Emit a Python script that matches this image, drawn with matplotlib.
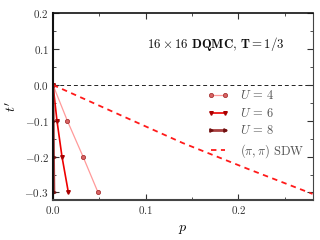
import matplotlib
matplotlib.use("Agg")
import matplotlib.pyplot as plt
from matplotlib.ticker import MultipleLocator, FixedLocator, FixedFormatter

plt.rcParams['mathtext.fontset'] = 'cm'
plt.rcParams['font.family'] = 'serif'
plt.rcParams['font.serif'] = ['DejaVu Serif']

# data
tp = [0.0, -0.1, -0.2, -0.3]
p_U4 = [0.0, 0.0155, 0.0324, 0.0486]
p_U6 = [0.0, 0.0043, 0.0097, 0.0166]
p_U8 = [0.0, 0.0003, 0.0006, 0.0010]
p_sdw = [0.0, 0.07, 0.14, 0.21, 0.28]
t_sdw = [0.0, -0.081, -0.162, -0.234, -0.304]

xticks = [0.0, 0.1, 0.2]
xticklabels = [r'$0.0$', r'$0.1$', r'$0.2$']
yticks = [-0.3, -0.2, -0.1, 0.0, 0.1, 0.2]
yticklabels = [r'$-0.3$', r'$-0.2$', r'$-0.1$', r'$0.0$', r'$0.1$', r'$0.2$']

fig = plt.figure(figsize=(3.2, 2.4), dpi=100)
ax = fig.add_axes([0.1656, 0.1667, 0.811, 0.778])

ax.axhline(0.0, color='#222222', ls=(0, (4, 3)), lw=0.7, zorder=1)

ax.plot(p_U4, tp, color='#ff9a9a', lw=0.9, marker='o', ms=3.0,
        mfc='#d86464', mec='#a83434', mew=0.6, label=r'$U\,=\,4$')
ax.plot(p_U6, tp, color='#ee0000', lw=1.2, marker='v', ms=2.6,
        mfc='#aa0000', mec='#aa0000', label=r'$U\,=\,6$')
ax.plot(p_U8, tp, color='#a84040', lw=2.0, marker='>', ms=2.4,
        mfc='#701010', mec='#701010', label=r'$U\,=\,8$')
ax.plot(p_sdw, t_sdw, color='#ff1a1a', lw=1.3, ls=(0, (3, 2.5)),
        label=r'$(\pi,\pi)\ \mathrm{SDW}$')

ax.set_xlim(0, 0.28)
ax.set_ylim(-0.321, 0.2)

ax.xaxis.set_major_locator(FixedLocator(xticks))
ax.xaxis.set_major_formatter(FixedFormatter(xticklabels))
ax.yaxis.set_major_locator(FixedLocator(yticks))
ax.yaxis.set_major_formatter(FixedFormatter(yticklabels))
ax.xaxis.set_minor_locator(MultipleLocator(0.05))
ax.yaxis.set_minor_locator(MultipleLocator(0.05))
ax.tick_params(which='both', direction='in', top=True, right=True,
               labelsize=8, colors='#333333', pad=3)
ax.tick_params(which='major', length=4, width=0.8)
ax.tick_params(which='minor', length=2, width=0.6)

for side, lw, c in [('left', 1.5, '#111111'), ('bottom', 1.5, '#444444'),
                    ('top', 1.2, '#111111'), ('right', 0.8, '#444444')]:
    ax.spines[side].set_linewidth(lw)
    ax.spines[side].set_color(c)

ax.set_xlabel(r'$p$', fontsize=10, labelpad=4)
ax.set_ylabel(r"$t'$", fontsize=10, labelpad=4)

ax.text(0.101, 0.113, r'$16\times16\ \mathbf{DQMC,\,T{=}1/3}$',
        fontsize=9.3, ha='left', va='center', color='#111111')

leg = ax.legend(loc='upper left', bbox_to_anchor=(0.594, 0.592), frameon=False,
                fontsize=9, numpoints=2, handlelength=1.7, labelspacing=0.36,
                handletextpad=0.95, borderpad=0, borderaxespad=0)
for t in leg.get_texts():
    t.set_color('#555555')

fig.savefig('out.png', dpi=100)
